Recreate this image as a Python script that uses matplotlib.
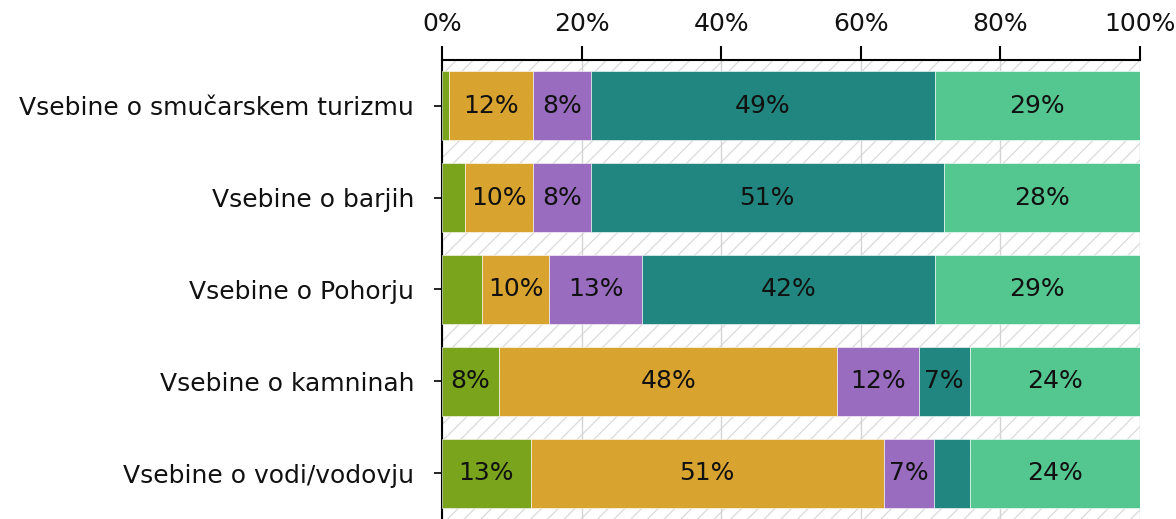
import matplotlib
matplotlib.use("Agg")
import matplotlib.pyplot as plt
from matplotlib.patches import Rectangle
import numpy as np

categories = [
    "Vsebine o smučarskem turizmu",
    "Vsebine o barjih",
    "Vsebine o Pohorju",
    "Vsebine o kamninah",
    "Vsebine o vodi/vodovju",
]
s1 = [1.0, 3.3, 5.8, 8.2, 12.7]
s2 = [12.1, 9.7, 9.6, 48.4, 50.6]
s3 = [8.2, 8.3, 13.2, 11.7, 7.2]
s4 = [49.3, 50.6, 42.0, 7.3, 5.1]
s5 = [29.4, 28.1, 29.4, 24.4, 24.4]
series = [s1, s2, s3, s4, s5]
colors = ["#79A41B", "#D9A32F", "#9A6CC0", "#20867F", "#54C790"]
xticks = [0, 20, 40, 60, 80, 100]
xticklabels = ["0%", "20%", "40%", "60%", "80%", "100%"]

plt.rcParams['font.family'] = ['DejaVu Sans']
plt.rcParams['hatch.linewidth'] = 0.9
fig = plt.figure(figsize=(11.76, 5.19), dpi=100)
ax = fig.add_axes([442/1176, 0.0, (1140-442)/1176, 1 - 60/519])

# hatched background
bg = Rectangle((0, 0), 1, 1, transform=ax.transAxes, facecolor="white",
               edgecolor="#dadada", hatch="//", linewidth=0, zorder=0)
ax.add_patch(bg)

y = np.arange(len(categories))
left = np.zeros(len(categories))
for vals, col in zip(series, colors):
    vals = np.array(vals)
    ax.barh(y, vals, left=left, height=0.75, color=col,
            edgecolor="white", linewidth=0.4, zorder=3)
    for yi, l, v in zip(y, left, vals):
        if v >= 6.5:
            ax.text(l + v / 2, yi, f"{int(round(v))}%", ha="center", va="center",
                    fontsize=18, color="#111111", zorder=4)
    left += vals

ax.set_xlim(0, 100)
ax.set_ylim(len(categories) - 0.5, -0.5)
ax.set_yticks(y)
ax.set_yticklabels(categories, fontsize=18, color="#111111")
ax.xaxis.tick_top()
ax.set_xticks(xticks)
ax.set_xticklabels(xticklabels, fontsize=18, color="#111111")
ax.tick_params(axis="x", length=10, width=1.5, pad=7)
ax.tick_params(axis="y", length=6, width=1.2, pad=14)
ax.grid(axis="x", color="#d4d4d4", linewidth=1, zorder=1)
ax.set_axisbelow(True)
for side in ["right", "bottom"]:
    ax.spines[side].set_visible(False)
ax.spines["top"].set_linewidth(1.5)
ax.spines["left"].set_linewidth(1.5)

fig.savefig("out.png", dpi=100)
